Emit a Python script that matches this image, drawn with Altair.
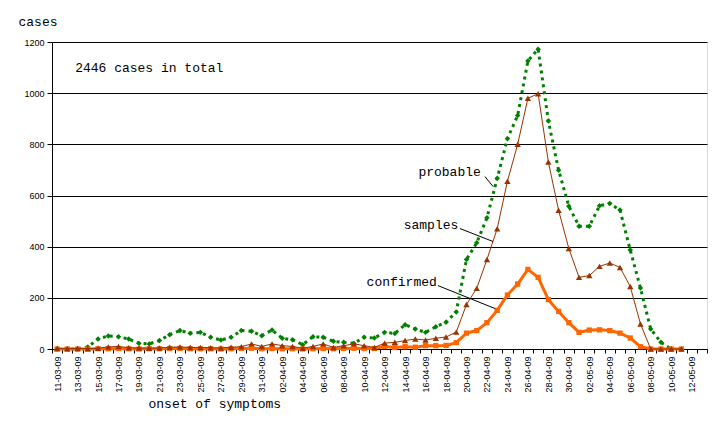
import altair as alt
import pandas as pd

# one category per day, 11-03-09 .. 13-05-09 (only every other one is labelled)
dates = pd.date_range("2009-03-11", "2009-05-13").strftime("%d-%m-%y").tolist()

probable = [0, 0, 0, 8, 39, 51, 48, 39, 22, 20,
            33, 56, 72, 62, 65, 46, 35, 46, 72, 69,
            52, 74, 42, 36, 17, 48, 46, 30, 26, 22,
            46, 43, 65, 61, 95, 78, 65, 87, 105, 145,
            350, 415, 513, 667, 822, 913, 1126, 1172, 891, 699,
            558, 480, 480, 560, 569, 543, 387, 238, 78, 26,
            0]
samples = [2, 1, 2, 1, 3, 8, 10, 5, 4, 3,
           4, 7, 8, 6, 6, 5, 4, 7, 9, 20,
           10, 20, 13, 10, 3, 10, 20, 6, 13, 20,
           13, 6, 23, 26, 33, 39, 35, 42, 47, 66,
           174, 237, 350, 470, 656, 800, 980, 998, 731, 542,
           393, 280, 287, 323, 336, 319, 244, 98, 0, 0,
           0, 0]
confirmed = [0, 0, 0, 0, 1, 1, 2, 1, 0, 1,
             1, 2, 2, 1, 1, 1, 0, 1, 2, 3,
             1, 2, 1, 1, 0, 1, 2, 1, 2, 3,
             2, 2, 10, 6, 9, 7, 13, 13, 14, 25,
             62, 72, 103, 151, 211, 254, 311, 280, 193, 147,
             103, 65, 74, 75, 72, 62, 43, 9, 0, 0,
             0, 0]

note_text = ["probable", "samples", "confirmed"]
note_day = [41.4, 39.2, 37.1]
note_cases = [690, 483, 260]
leader_day = [41.8, 39.35, 37.2]
leader_cases = [674, 471, 248]
leader_day2 = [42.6, 42.6, 42.8]
leader_cases2 = [635, 420, 158]

MONO = "Liberation Mono"
SANS = "Liberation Sans"


def frame(values):
    return pd.DataFrame({"day": list(range(len(values))), "cases": values})


label_lookup = "[" + ",".join("'%s'" % d for d in dates) + "]"
label_expr = ("(datum.value + 0.5) % 2 == 0 && datum.value < 63 ? "
              + label_lookup + "[datum.value + 0.5] : ''")

x_axis = alt.Axis(
    values=[i - 0.5 for i in range(len(dates) + 1)],
    labelExpr=label_expr,
    labelAngle=270, labelAlign="right", labelBaseline="middle",
    labelOffset=5.1, labelOverlap=False, labelFlush=False,
    labelFont=SANS, labelFontSize=9, labelColor="black", labelPadding=3,
    tickSize=4, tickColor="black", domainColor="black", grid=False,
    title="onset of symptoms", titleFont=MONO, titleFontSize=13,
    titleFontWeight="normal", titleColor="black",
    titleX=96, titleY=54, titleAlign="left", titleBaseline="middle",
)
y_axis = alt.Axis(
    values=[0, 200, 400, 600, 800, 1000, 1200], format="d",
    grid=True, gridColor="black", gridOpacity=1,
    domainColor="black", tickColor="black", tickSize=5,
    labelFont=SANS, labelFontSize=9, labelColor="black", labelPadding=3,
    title="cases", titleFont=MONO, titleFontSize=13, titleFontWeight="normal",
    titleColor="black", titleAngle=0, titleX=-34, titleY=-21,
    titleAlign="left", titleBaseline="middle",
)

xscale = alt.Scale(domain=[-0.5, 63.5], nice=False, zero=False)
yscale = alt.Scale(domain=[0, 1200], nice=False)


def xy(xfield, yfield):
    return (alt.X(xfield, type="quantitative", scale=xscale, axis=x_axis),
            alt.Y(yfield, type="quantitative", scale=yscale, axis=y_axis))


def series(values, color, width, shape, size, dash=None):
    base = alt.Chart(frame(values)).encode(*xy("day", "cases"))
    line_args = {"color": color, "strokeWidth": width}
    if dash:
        line_args["strokeDash"] = dash
    line = base.mark_line(**line_args)
    points = base.mark_point(shape=shape, filled=True, color=color,
                             size=size, opacity=1)
    return line + points


prob = series(probable, "#008000", 3, "diamond", 30, dash=[3, 4])
samp = series(samples, "#993300", 1, "triangle-up", 40)
conf = series(confirmed, "#FF6600", 3, "square", 28)

notes = pd.DataFrame({
    "text": note_text, "day": note_day, "cases": note_cases,
    "lx": leader_day, "ly": leader_cases, "lx2": leader_day2, "ly2": leader_cases2,
})
note_labels = alt.Chart(notes).mark_text(
    font=MONO, fontSize=13, align="right", baseline="middle", color="black"
).encode(*xy("day", "cases"), text="text:N")
leaders = alt.Chart(notes).mark_rule(color="black", strokeWidth=1).encode(
    *xy("lx", "ly"), x2="lx2:Q", y2="ly2:Q",
)

total = alt.Chart(pd.DataFrame({"text": ["2446 cases in total"],
                                "day": [1.76], "cases": [1100]})).mark_text(
    font=MONO, fontSize=13, align="left", baseline="middle", color="black"
).encode(*xy("day", "cases"), text="text:N")

chart = alt.layer(prob, conf, samp, leaders, note_labels, total).properties(
    width=655, height=307,
    autosize=alt.AutoSizeParams(type="none"),
    padding={"left": 44, "top": 34, "right": 5, "bottom": 80},
).configure_view(strokeWidth=0).configure_axis(
    labelOverlap=False
).configure(background="white")

chart.save("out.html", embed_options={"renderer": "svg", "actions": False})
